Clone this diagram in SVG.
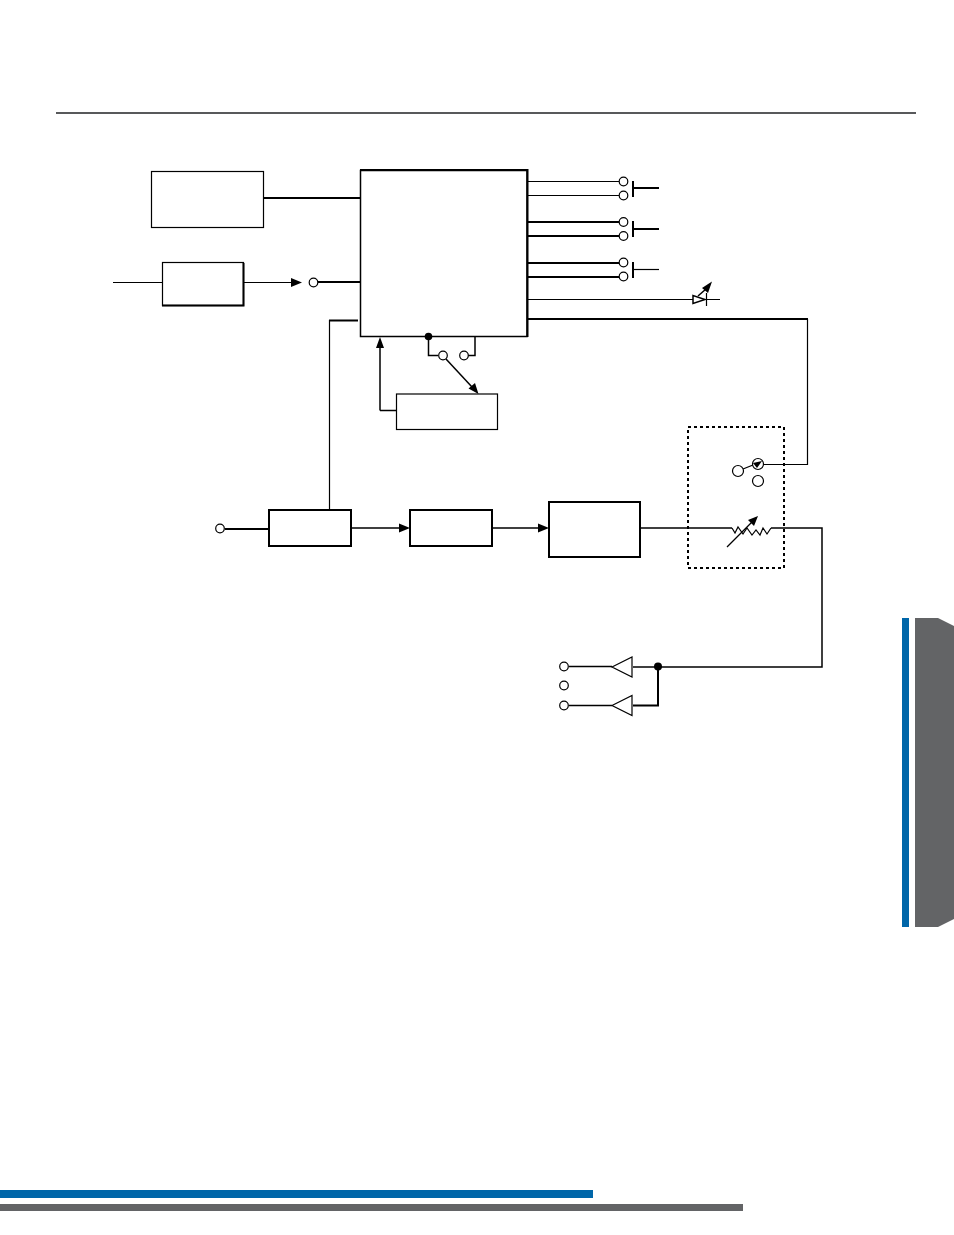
<svg xmlns="http://www.w3.org/2000/svg" width="954" height="1235" viewBox="0 0 954 1235">
<style>
.b{fill:#fff;stroke:#000}
.l{fill:none;stroke:#000;stroke-width:1.2}
.m{fill:none;stroke:#000;stroke-width:1.5}
.t{fill:none;stroke:#000;stroke-width:2}
.p{fill:#fff;stroke:#000;stroke-width:1.2}
.a{fill:#000;stroke:none}
</style>
<rect width="954" height="1235" fill="#fff"/>
<g id="page">
<rect x="56" y="112" width="860" height="2" fill="#58595b"/>
<rect x="902" y="618" width="7" height="309" fill="#0066a9"/>
<path d="M915 618H938L954 626V919L938 927H915Z" fill="#636466"/>
<rect x="0" y="1190" width="593" height="8" fill="#0066a9"/>
<rect x="0" y="1204" width="743" height="7" fill="#636466"/>
</g>
<g id="connectors">
<path class="t" d="M264 198H360M318 282H360"/>
<path class="l" d="M113 282.500H162M244 282.500H292"/>
<path class="a" d="M291 278V287L302 282.500Z"/>
<path class="t" d="M358 320.500H329"/><path class="l" d="M329.500 320V510"/>
<path class="l" d="M527 181.500H619M527 195.500H619M527 299.500H693M706 299.500H720"/>
<path class="t" d="M527 222H619M527 236H619M527 263H619M527 277H619"/>
<path class="t" d="M633 181V197M633 221V237M633 262V278M633 188H659M633 229H659"/>
<path class="l" d="M633 269.500H659"/>
<path class="l" d="M807.500 319V464.500H763"/><path class="t" d="M527 319H808"/>
<path class="m" d="M428.500 337V355.500H438M380 410.500V346M380 410.500H396M475 337V355.500H468"/>
<path class="m" d="M446 359L472 387"/>
<path class="a" d="M384 348H376L380 337ZM478.500 394L468.500 388.500L475 383Z"/>
<path class="t" d="M225 529H269"/>
<path class="m" d="M352 528H400M493 528H539M641 528H732M771 528H822V667H633"/>
<path class="a" d="M399 523.500V532.500L410 528ZM538 523.500V532.500L549 528Z"/>
<path class="l" d="M732 528L735 533L738 527L743 534L747 528L752 535L756 530L760 535L763 528L767 534L771 528"/>
<path class="l" d="M727 547L752 522"/><path class="a" d="M758 516L754 526L748 520Z"/>
<path class="t" d="M658 667V705.500H633"/>
<path class="m" d="M569 666.500H612M569 705.500H612"/>
<path class="l" d="M743 469L753 465"/>
<path class="m" d="M698 296L706 289"/><path class="a" d="M712 281.500L708 293L702 288Z"/>
<path class="l" d="M706.500 293V306"/>
<path class="m" d="M693 295.500V303.500L705 299.500Z"/>
</g>
<g id="main-block"><rect class="b" x="360.500" y="170.500" width="166.500" height="166" stroke-width="1.500"/><path class="t" d="M360 170H527.500V337"/></g>
<g id="top-left-block"><rect class="b" x="151.500" y="171.500" width="112" height="56" stroke-width="1.200"/></g>
<g id="input-block"><rect class="b" x="162.500" y="262.500" width="81" height="43" stroke-width="1.200"/><path class="t" d="M243.500 263V305.500H162"/></g>
<g id="feedback-block"><rect class="b" x="396.500" y="394" width="101" height="35.500" stroke-width="1.200"/></g>
<g id="block-1"><rect class="b" x="269" y="510" width="82" height="36" stroke-width="2"/></g>
<g id="block-2"><rect class="b" x="410" y="510" width="82" height="36" stroke-width="2"/></g>
<g id="block-3"><rect class="b" x="549" y="502" width="91" height="55" stroke-width="2"/></g>
<g id="dashed-module"><rect x="688" y="427" width="96" height="141" fill="none" stroke="#000" stroke-width="2" stroke-dasharray="3 3"/></g>
<g id="terminals">
<circle class="p" cx="623.500" cy="181.500" r="4.300"/><circle class="p" cx="623.500" cy="195.500" r="4.300"/>
<circle class="p" cx="623.500" cy="222" r="4.300"/><circle class="p" cx="623.500" cy="236" r="4.300"/>
<circle class="p" cx="623.500" cy="262.500" r="4.300"/><circle class="p" cx="623.500" cy="276.500" r="4.300"/>
<circle class="p" cx="313.500" cy="282.500" r="4.300"/>
<circle class="p" cx="443" cy="355.500" r="4.300"/><circle class="p" cx="464" cy="355.500" r="4.300"/>
<circle class="a" cx="428.500" cy="336.500" r="3.800"/>
<circle class="p" cx="220" cy="528.500" r="4.300"/>
<circle class="p" cx="738" cy="471" r="5.500"/><circle class="p" cx="758" cy="464" r="5.500"/><circle class="p" cx="758" cy="481" r="5.500"/>
<path class="a" d="M753 463L762 461L757 468Z"/>
<circle class="p" cx="564" cy="666.500" r="4.300"/><circle class="p" cx="564" cy="685.500" r="4.300"/><circle class="p" cx="564" cy="705.500" r="4.300"/>
<circle class="a" cx="658" cy="666.500" r="4"/>
</g>
<g id="amp-1"><path class="p" d="M612 667L632 657V677Z" stroke-width="1.500"/></g>
<g id="amp-2"><path class="p" d="M612 705.500L632 695.500V715.500Z" stroke-width="1.500"/></g>
</svg>
